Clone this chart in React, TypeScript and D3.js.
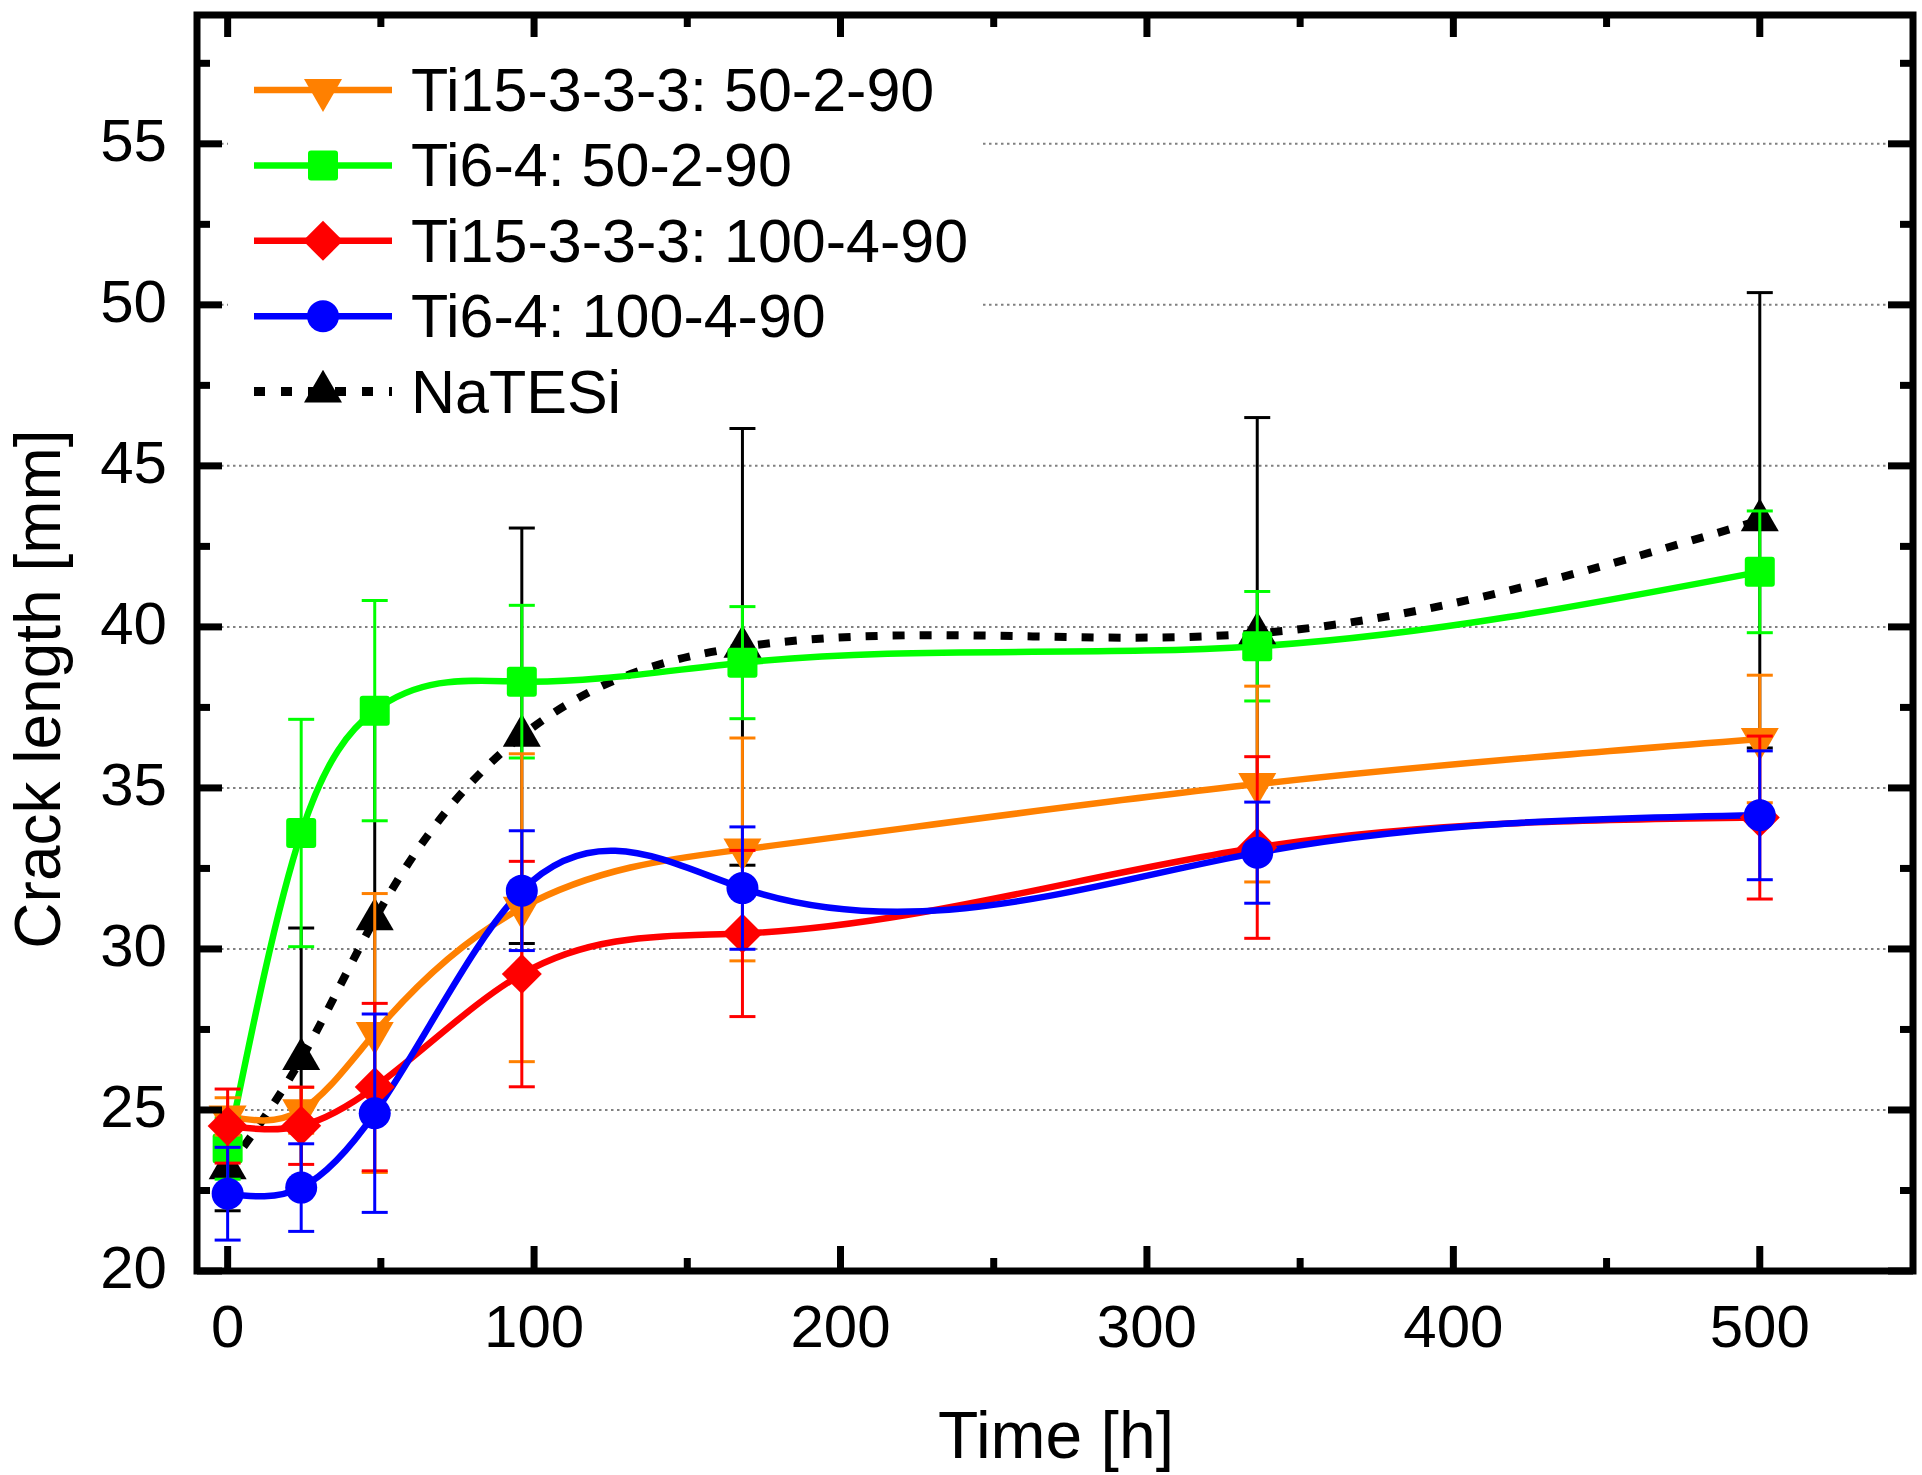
import React from 'react';
import * as d3 from 'd3';

const times = [0, 24, 48, 96, 168, 336, 500];

const ti15_50 = [24.8, 24.99, 27.39, 31.28, 33.09, 35.12, 36.52];
const ti15_50Err = [0.58, 0.71, 4.33, 4.78, 3.46, 3.04, 1.98];

const ti64_50 = [23.8, 33.6, 37.4, 38.3, 38.89, 39.4, 41.71];
const ti64_50Err = [0.95, 3.53, 3.42, 2.37, 1.74, 1.7, 1.89];

const ti15_100 = [24.5, 24.51, 25.71, 29.22, 30.48, 33.15, 34.08];
const ti15_100Err = [1.15, 1.2, 2.6, 3.5, 2.58, 2.82, 2.53];

const ti64_100 = [22.4, 22.59, 24.9, 31.81, 31.89, 32.99, 34.15];
const ti64_100Err = [1.44, 1.36, 3.08, 1.86, 1.9, 1.57, 2.0];

const natesi = [23.19, 26.58, 30.92, 36.62, 39.38, 39.8, 43.31];
const natesiErr = [1.32, 4.07, 6.22, 6.45, 6.78, 6.7, 7.07];

const xMajorTicks = [0, 100, 200, 300, 400, 500];
const xMinorTicks = [50, 150, 250, 350, 450];
const yMajorTicks = [20, 25, 30, 35, 40, 45, 50, 55];
const yMinorTicks = [22.5, 27.5, 32.5, 37.5, 42.5, 47.5, 52.5, 57.5];
const gridTicks = [25, 30, 35, 40, 45, 50, 55];

type Marker = 'tdown' | 'square' | 'diamond' | 'circle' | 'tup';

interface Series {
  name: string;
  values: number[];
  errors: number[];
  color: string;
  marker: Marker;
  dashed: boolean;
}

const legendOrder: Series[] = [
  { name: 'Ti15-3-3-3: 50-2-90', values: ti15_50, errors: ti15_50Err, color: '#FF8000', marker: 'tdown', dashed: false },
  { name: 'Ti6-4: 50-2-90', values: ti64_50, errors: ti64_50Err, color: '#00FF00', marker: 'square', dashed: false },
  { name: 'Ti15-3-3-3: 100-4-90', values: ti15_100, errors: ti15_100Err, color: '#FF0000', marker: 'diamond', dashed: false },
  { name: 'Ti6-4: 100-4-90', values: ti64_100, errors: ti64_100Err, color: '#0000FF', marker: 'circle', dashed: false },
  { name: 'NaTESi', values: natesi, errors: natesiErr, color: '#000000', marker: 'tup', dashed: true },
];

const drawOrder = [4, 1, 0, 2, 3];

const FONT = '"Liberation Sans", Arial, Helvetica, sans-serif';

// A D3 curve factory: natural cubic spline y(x) (x monotonic), emitted as exact Bezier segments.
function NaturalX(this: any, context: any) {
  this._context = context;
}
NaturalX.prototype = {
  areaStart() {
    this._line = 0;
  },
  areaEnd() {
    this._line = NaN;
  },
  lineStart() {
    this._xs = [];
    this._ys = [];
  },
  point(px: number, py: number) {
    this._xs.push(+px);
    this._ys.push(+py);
  },
  lineEnd() {
    const X: number[] = this._xs;
    const Y: number[] = this._ys;
    const n = X.length;
    const ctx = this._context;
    if (!n) return;
    ctx.moveTo(X[0], Y[0]);
    if (n === 1) return;
    if (n === 2) {
      ctx.lineTo(X[1], Y[1]);
      return;
    }
    const h: number[] = [];
    for (let i = 0; i < n - 1; i++) h.push(X[i + 1] - X[i]);
    const M = new Array(n).fill(0);
    const a: number[] = [], b: number[] = [], c: number[] = [], r: number[] = [];
    for (let i = 1; i < n - 1; i++) {
      a.push(h[i - 1]);
      b.push(2 * (h[i - 1] + h[i]));
      c.push(h[i]);
      r.push(6 * ((Y[i + 1] - Y[i]) / h[i] - (Y[i] - Y[i - 1]) / h[i - 1]));
    }
    const m = b.length;
    for (let i = 1; i < m; i++) {
      const w = a[i] / b[i - 1];
      b[i] -= w * c[i - 1];
      r[i] -= w * r[i - 1];
    }
    const sol = new Array(m).fill(0);
    sol[m - 1] = r[m - 1] / b[m - 1];
    for (let i = m - 2; i >= 0; i--) sol[i] = (r[i] - c[i] * sol[i + 1]) / b[i];
    for (let i = 0; i < m; i++) M[i + 1] = sol[i];
    for (let i = 0; i < n - 1; i++) {
      const hi = h[i];
      const d0 = (Y[i + 1] - Y[i]) / hi - (hi * (2 * M[i] + M[i + 1])) / 6;
      const d1 = (Y[i + 1] - Y[i]) / hi + (hi * (M[i] + 2 * M[i + 1])) / 6;
      ctx.bezierCurveTo(
        X[i] + hi / 3,
        Y[i] + (d0 * hi) / 3,
        X[i + 1] - hi / 3,
        Y[i + 1] - (d1 * hi) / 3,
        X[i + 1],
        Y[i + 1]
      );
    }
  },
};
const curveNaturalX = (context: any) => new (NaturalX as any)(context);

function MarkerShape({ type, cx, cy, color }: { type: Marker; cx: number; cy: number; color: string }) {
  const s = 38;
  const h = (s * Math.sqrt(3)) / 2;
  if (type === 'tup') {
    const pts = [[cx, cy - (2 * h) / 3], [cx - s / 2, cy + h / 3], [cx + s / 2, cy + h / 3]];
    return <polygon points={pts.map((p) => p.join(',')).join(' ')} fill={color} />;
  }
  if (type === 'tdown') {
    const pts = [[cx, cy + (2 * h) / 3], [cx - s / 2, cy - h / 3], [cx + s / 2, cy - h / 3]];
    return <polygon points={pts.map((p) => p.join(',')).join(' ')} fill={color} />;
  }
  if (type === 'square') {
    return <rect x={cx - 15} y={cy - 15} width={30} height={30} rx={3} fill={color} />;
  }
  if (type === 'diamond') {
    const r = 20;
    const pts = [[cx, cy - r], [cx + r, cy], [cx, cy + r], [cx - r, cy]];
    return <polygon points={pts.map((p) => p.join(',')).join(' ')} fill={color} />;
  }
  return <circle cx={cx} cy={cy} r={16} fill={color} />;
}

export default function App() {
  const W = 1922;
  const H = 1475;
  const left = 197;
  const right = 1913;
  const top = 15;
  const bottom = 1271;

  const x = d3.scaleLinear().domain([-10, 550]).range([left, right]);
  const y = d3.scaleLinear().domain([20, 59]).range([bottom, top]);

  const line = d3
    .line<[number, number]>()
    .x((d) => x(d[0]))
    .y((d) => y(d[1]))
    .curve(curveNaturalX as any);

  const legendRowY = (i: number) => 90 + i * 75.4;

  return (
    <svg
      width={W}
      height={H}
      viewBox={`0 0 ${W} ${H}`}
      style={{ position: 'absolute', left: 0, top: 0, background: '#fff' }}
      fontFamily={FONT}
    >
      <rect x={0} y={0} width={W} height={H} fill="#fff" />

      {/* gridlines */}
      {gridTicks.map((v) => (
        <line
          key={'g' + v}
          x1={left}
          x2={right}
          y1={y(v)}
          y2={y(v)}
          stroke="#808080"
          strokeWidth={2}
          strokeDasharray="2.5 3.5"
        />
      ))}

      {/* legend background */}
      <rect x={228} y={40} width={754} height={392} fill="#fff" />

      {/* lines */}
      {drawOrder.map((si) => {
        const s = legendOrder[si];
        const pts = times.map((t, i) => [t, s.values[i]] as [number, number]);
        return (
          <path
            key={'l' + si}
            d={line(pts) || ''}
            fill="none"
            stroke={s.color}
            strokeWidth={s.dashed ? 8 : 6.5}
            strokeDasharray={s.dashed ? '12 15' : undefined}
          />
        );
      })}

      {/* markers and error bars */}
      {drawOrder.map((si) => {
        const s = legendOrder[si];
        return (
          <g key={'m' + si}>
            {times.map((t, i) => (
              <MarkerShape key={'mk' + i} type={s.marker} cx={x(t)} cy={y(s.values[i])} color={s.color} />
            ))}
            {times.map((t, i) => {
              const cx = x(t);
              const y1 = y(s.values[i] + s.errors[i]);
              const y2 = y(s.values[i] - s.errors[i]);
              return (
                <g key={'e' + i} stroke={s.color} strokeWidth={3}>
                  <line x1={cx} x2={cx} y1={y1} y2={y2} />
                  <line x1={cx - 13} x2={cx + 13} y1={y1} y2={y1} />
                  <line x1={cx - 13} x2={cx + 13} y1={y2} y2={y2} />
                </g>
              );
            })}
          </g>
        );
      })}

      {/* frame */}
      <rect x={left} y={top} width={right - left} height={bottom - top} fill="none" stroke="#000" strokeWidth={7} />

      {/* x ticks */}
      {xMajorTicks.map((v) => (
        <g key={'xt' + v} stroke="#000" strokeWidth={7}>
          <line x1={x(v)} x2={x(v)} y1={bottom} y2={bottom - 25} />
          <line x1={x(v)} x2={x(v)} y1={top} y2={top + 22} />
        </g>
      ))}
      {xMinorTicks.map((v) => (
        <g key={'xm' + v} stroke="#000" strokeWidth={7}>
          <line x1={x(v)} x2={x(v)} y1={bottom} y2={bottom - 13} />
          <line x1={x(v)} x2={x(v)} y1={top} y2={top + 12} />
        </g>
      ))}
      {/* y ticks */}
      {yMajorTicks.map((v) => (
        <g key={'yt' + v} stroke="#000" strokeWidth={7}>
          <line x1={left} x2={left + 25} y1={y(v)} y2={y(v)} />
          <line x1={right} x2={right - 25} y1={y(v)} y2={y(v)} />
        </g>
      ))}
      {yMinorTicks.map((v) => (
        <g key={'ym' + v} stroke="#000" strokeWidth={7}>
          <line x1={left} x2={left + 13} y1={y(v)} y2={y(v)} />
          <line x1={right} x2={right - 13} y1={y(v)} y2={y(v)} />
        </g>
      ))}

      {/* tick labels */}
      {xMajorTicks.map((v) => (
        <text key={'xl' + v} x={x(v)} y={1347} fontSize={60} textAnchor="middle" fill="#000">
          {v}
        </text>
      ))}
      {yMajorTicks.map((v) => (
        <text key={'yl' + v} x={167} y={y(v) + 17} fontSize={60} textAnchor="end" fill="#000">
          {v}
        </text>
      ))}

      {/* axis titles */}
      <text x={1056} y={1458} fontSize={66} textAnchor="middle" fill="#000">
        Time [h]
      </text>
      <text transform="translate(60,689) rotate(-90)" fontSize={64} textAnchor="middle" fill="#000">
        Crack length [mm]
      </text>

      {/* legend */}
      {legendOrder.map((s, i) => {
        const ly = legendRowY(i);
        return (
          <g key={'lg' + i}>
            <line
              x1={254}
              x2={392}
              y1={ly}
              y2={ly}
              stroke={s.color}
              strokeWidth={s.dashed ? 9 : 6.5}
              strokeDasharray={s.dashed ? '11 16' : undefined}
            />
            <MarkerShape type={s.marker} cx={323} cy={ly} color={s.color} />
            <text x={411} y={ly + 21} fontSize={61} fill="#000">
              {s.name}
            </text>
          </g>
        );
      })}
    </svg>
  );
}
